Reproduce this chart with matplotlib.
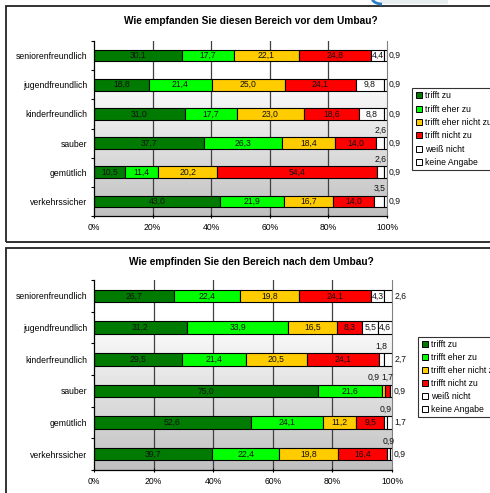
import numpy as np
import matplotlib
matplotlib.use("Agg")
import matplotlib.pyplot as plt
from matplotlib.patches import Rectangle, Arc
from matplotlib.lines import Line2D

plt.rcParams['font.family'] = ['Liberation Sans', 'DejaVu Sans']

# categories (top to bottom) and answer groups
categories = ['seniorenfreundlich', 'jugendfreundlich', 'kinderfreundlich',
              'sauber', 'gemütlich', 'verkehrssicher']
answers = ['trifft zu', 'trifft eher zu', 'trifft eher nicht zu',
           'trifft nicht zu', 'weiß nicht', 'keine Angabe']
colors = ['#007a00', '#00ff00', '#ffcc00', '#ff0000', '#ffffff', '#ffffff']

# before the rebuild (per category, per answer, in %)
vor_zu = [30.1, 18.8, 31.0, 37.7, 10.5, 43.0]
vor_eher_zu = [17.7, 21.4, 17.7, 26.3, 11.4, 21.9]
vor_eher_nicht = [22.1, 25.0, 23.0, 18.4, 20.2, 16.7]
vor_nicht = [24.8, 24.1, 18.6, 14.0, 54.4, 14.0]
vor_weiss = [4.4, 9.8, 8.8, 2.6, 2.6, 3.5]
vor_keine = [0.9, 0.9, 0.9, 0.9, 0.9, 0.9]

# after the rebuild
nach_zu = [26.7, 31.2, 29.5, 75.0, 52.6, 39.7]
nach_eher_zu = [22.4, 33.9, 21.4, 21.6, 24.1, 22.4]
nach_eher_nicht = [19.8, 16.5, 20.5, 0.9, 11.2, 19.8]
nach_nicht = [24.1, 8.3, 24.1, 1.7, 9.5, 16.4]
nach_weiss = [4.3, 5.5, 1.8, 0.0, 0.9, 0.9]
nach_keine = [2.6, 4.6, 2.7, 0.9, 1.7, 0.9]

title_vor = 'Wie empfanden Sie diesen Bereich vor dem Umbau?'
title_nach = 'Wie empfinden Sie den Bereich nach dem Umbau?'
xticks = [0, 20, 40, 60, 80, 100]
xticklabels = ['0%', '20%', '40%', '60%', '80%', '100%']

W, H = 490, 493
fig = plt.figure(figsize=(W / 100, H / 100), dpi=100)
FS = 6.2


def fmt(v):
    return ('%.1f' % v).replace('.', ',')


def px(x0, y0, x1, y1):
    # pixel box -> figure fraction [left, bottom, width, height]
    return [x0 / W, 1 - y1 / H, (x1 - x0) / W, (y1 - y0) / H]


def panel(rect, series, title, title_y, legend_xy, spacing):
    ax = fig.add_axes(rect)
    n = len(categories)
    ax.set_xlim(0, 100)
    ax.set_ylim(n - 0.5, -0.5)

    # grey gradient background
    grad = np.linspace(1.0, 0.0, 256)
    grad = np.clip(grad * 1.25, 0, 1)[:, None]
    shade = 0.753 + (1 - 0.753) * grad
    img = np.dstack([shade, shade, shade])
    ax.imshow(img, extent=[0, 100, n - 0.5, -0.5], aspect='auto', zorder=0)

    for x in xticks[1:-1]:
        ax.axvline(x, color='#404040', lw=0.9, zorder=1)

    y = np.arange(n)
    left = np.zeros(n)
    data = np.array(series, dtype=float)
    for k, vals in enumerate(data):
        ax.barh(y, vals, left=left, height=0.4, color=colors[k],
                edgecolor='black', linewidth=0.8, zorder=2)
        left = left + vals

    # value labels
    for i in range(n):
        cum = np.concatenate([[0], np.cumsum(data[:, i])])
        above = []
        for k in range(len(answers)):
            v = data[k, i]
            if v <= 0:
                continue
            c = (cum[k] + cum[k + 1]) / 2
            if v >= 4:
                ax.text(c, i, fmt(v), ha='center', va='center',
                        fontsize=FS, color='#111111', zorder=3)
            elif k == len(answers) - 1:
                ax.annotate(fmt(v), (100, i), xytext=(1.5, 0),
                            textcoords='offset points', ha='left',
                            va='center', fontsize=FS, color='#111111',
                            annotation_clip=False)
            else:
                above.append((c, v))
        for j, (c, v) in enumerate(above):
            dx = -7 if j < len(above) - 1 else 0
            ax.annotate(fmt(v), (c, i), xytext=(dx, 9.5),
                        textcoords='offset points', ha='center',
                        va='center', fontsize=FS, color='#111111',
                        annotation_clip=False)

    ax.set_yticks(y)
    ax.set_yticklabels(categories, fontsize=FS)
    ax.tick_params(axis='y', which='major', length=0, pad=5)
    ax.set_yticks(np.arange(n + 1) - 0.5, minor=True)
    ax.tick_params(axis='y', which='minor', length=2.5, width=0.8,
                   direction='out')
    ax.set_xticks(xticks)
    ax.set_xticklabels(xticklabels, fontsize=FS)
    ax.tick_params(axis='x', length=2.5, width=0.8, pad=4, direction='inout')

    ax.spines['top'].set_visible(False)
    ax.spines['right'].set_color('#808080')
    ax.spines['left'].set_linewidth(0.9)
    ax.spines['bottom'].set_linewidth(0.9)

    fig.text(251 / W, 1 - title_y / H, title, ha='center', va='center',
             fontsize=7.3, fontweight='bold')

    handles = [Line2D([], [], marker='s', linestyle='none', markersize=4,
                      markerfacecolor=colors[k], markeredgecolor='black',
                      markeredgewidth=0.7) for k in range(len(answers))]
    leg = fig.legend(handles, answers, loc='upper left',
                     bbox_to_anchor=(legend_xy[0] / W, 1 - legend_xy[1] / H),
                     fontsize=FS, frameon=True, fancybox=False,
                     borderaxespad=0, handlelength=0.8, handletextpad=0.3,
                     labelspacing=spacing, borderpad=0.4)
    leg.get_frame().set_edgecolor('black')
    leg.get_frame().set_linewidth(0.8)
    return ax


panel(px(94, 41, 387, 216),
      [vor_zu, vor_eher_zu, vor_eher_nicht, vor_nicht, vor_weiss, vor_keine],
      title_vor, 21, (412, 88), 0.5)
panel(px(94, 280, 392, 470),
      [nach_zu, nach_eher_zu, nach_eher_nicht, nach_nicht, nach_weiss,
       nach_keine],
      title_nach, 262, (418, 337), 0.45)

# panel frames
for (x0, y0, x1, y1) in [(6, 6, 500, 242), (6, 248, 500, 510)]:
    fig.patches.append(Rectangle((x0 / W, 1 - y1 / H), (x1 - x0) / W,
                                 (y1 - y0) / H, transform=fig.transFigure,
                                 fill=False, edgecolor='#222222', lw=1.3))

# logo fragment peeking above the top frame
fig.patches.append(Rectangle((380 / W, 1 - 4 / H), 68 / W, 4 / H,
                             transform=fig.transFigure, facecolor='#e8eef0',
                             edgecolor='none'))
fig.patches.append(Arc((382 / W, 1 + 2 / H), 20 / W, 12 / H,
                       theta1=190, theta2=270, transform=fig.transFigure,
                       color='#2a7fc8', lw=2))

fig.savefig('out.png', dpi=100)
